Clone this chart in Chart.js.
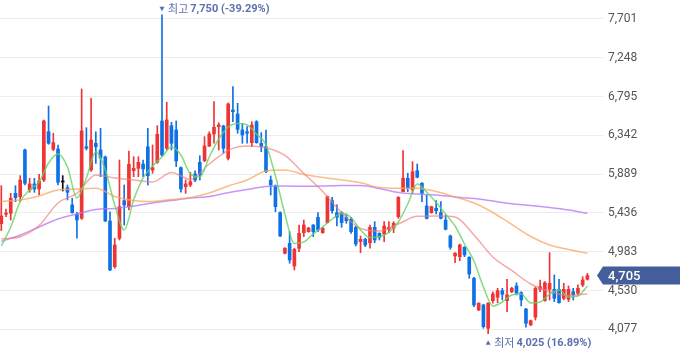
<!DOCTYPE html>
<html>
<head>
<meta charset="utf-8">
<script src="https://cdn.jsdelivr.net/npm/chart.js@4.4.1/dist/chart.umd.min.js"></script>
<style>
  html, body { margin: 0; padding: 0; background: #fff; }
  #wrap { width: 680px; height: 358px; }
</style>
</head>
<body>
<div id="wrap"><canvas id="chart" width="680" height="358"></canvas></div>
<script>
// daily candles, oldest first
const opens = [
  5310, 5420, 5432, 5665, 5626, 6171, 5704, 5774, 5715, 5820,
  6384, 6179, 6182, 5797, 5731, 5529, 5420, 5373, 6209, 5937,
  6249, 6171, 6089, 5342, 4808, 5140, 5579, 5509, 5929, 5957,
  6007, 6209, 5937, 6027, 6509, 6191, 6454, 6404, 5964, 5742,
  5762, 5891, 6027, 6046, 6217, 6358, 6443, 6451, 6074, 6638,
  6591, 6404, 6384, 6256, 6501, 6249, 6209, 5820, 5750, 5439,
  4965, 5081, 4816, 5023, 5205, 5217, 5295, 5385, 5205, 5322,
  5579, 5439, 5439, 5385, 5362, 5268, 5100, 5128, 5088, 5268,
  5198, 5190, 5245, 5256, 5392, 5684, 5840, 5704, 5929, 5782,
  5517, 5439, 5490, 5439, 5353, 5167, 4933, 4925, 5035, 4918,
  4673, 4303, 4361, 4089, 4411, 4451, 4528, 4411, 4516, 4583,
  4505, 4314, 4128, 4218, 4544, 4411, 4544, 4544, 4544, 4439,
  4428, 4516, 4498, 4595, 4661
];
const highs = [
  5754, 5482, 5665, 5754, 5871, 6180, 5840, 5840, 5887, 6521,
  6684, 6366, 6229, 5871, 5762, 5607, 5443, 6883, 6431, 6774,
  6384, 6424, 6100, 5450, 5140, 6054, 5762, 6159, 6092, 6092,
  6054, 6424, 6229, 6454, 7750, 6728, 6494, 6509, 5975, 5820,
  5910, 5926, 6104, 6326, 6384, 6735, 6490, 6460, 6720, 6910,
  6716, 6482, 6443, 6501, 6513, 6373, 6404, 5867, 5762, 5450,
  5030, 5217, 5023, 5295, 5353, 5268, 5300, 5439, 5268, 5634,
  5618, 5529, 5450, 5423, 5385, 5283, 5167, 5140, 5295, 5334,
  5205, 5334, 5334, 5334, 5626, 6163, 5899, 6034, 6007, 5789,
  5645, 5515, 5579, 5567, 5412, 5178, 4972, 5073, 5042, 4925,
  4685, 4388, 4370, 4390, 4516, 4556, 4556, 4661, 4568, 4621,
  4516, 4323, 4186, 4568, 4653, 4633, 4972, 4711, 4661, 4614,
  4583, 4556, 4595, 4691, 4731
];
const lows = [
  5229, 5392, 5353, 5567, 5567, 5762, 5677, 5677, 5645, 5800,
  6237, 6163, 5762, 5692, 5587, 5432, 5140, 5360, 6171, 5920,
  6015, 5859, 5334, 4762, 4790, 5120, 5295, 5470, 5859, 5859,
  5859, 5762, 5899, 6015, 6100, 6171, 6171, 5976, 5677, 5665,
  5742, 5801, 5820, 6034, 6209, 6249, 6171, 6132, 6054, 6501,
  6366, 6249, 6249, 6209, 6249, 6151, 5906, 5645, 5450, 5159,
  4956, 4848, 4770, 4983, 5159, 5210, 5159, 5217, 5198, 5315,
  5432, 5283, 5268, 5315, 5198, 5050, 4972, 5042, 5023, 5088,
  5120, 5100, 5205, 5205, 5373, 5684, 5684, 5665, 5845, 5567,
  5365, 5432, 5423, 5365, 5237, 5011, 4855, 4878, 4925, 4673,
  4341, 4295, 4089, 4025, 4381, 4388, 4420, 4283, 4505, 4478,
  4349, 4101, 4120, 4186, 4516, 4405, 4420, 4400, 4381, 4420,
  4400, 4420, 4478, 4575, 4653
];
const closes = [
  5400, 5435, 5607, 5614, 5820, 5782, 5774, 5715, 5809, 6509,
  6249, 6256, 5794, 5797, 5677, 5439, 5353, 6393, 6191, 6287,
  6209, 6077, 5342, 4770, 5062, 5509, 5529, 6004, 5957, 6027,
  5949, 5871, 5964, 6354, 6112, 6521, 6249, 6042, 5715, 5774,
  5801, 5820, 5880, 6217, 6358, 6436, 6463, 6191, 6708, 6618,
  6412, 6346, 6366, 6463, 6256, 6209, 5917, 5762, 5509, 5167,
  5023, 4886, 5011, 5198, 5295, 5260, 5217, 5237, 5256, 5626,
  5462, 5385, 5322, 5345, 5217, 5073, 5128, 5062, 5268, 5120,
  5151, 5283, 5268, 5315, 5618, 5840, 5724, 5917, 5852, 5665,
  5373, 5509, 5462, 5373, 5245, 5035, 4965, 5062, 4945, 4723,
  4361, 4381, 4108, 4381, 4490, 4528, 4486, 4478, 4556, 4498,
  4420, 4147, 4178, 4556, 4575, 4621, 4614, 4439, 4388, 4544,
  4544, 4478, 4556, 4653, 4705
];

// moving averages, one value every 2 / 4 candles
const ma5Step = 2;
const ma5 = [
  5050, 5272, 5570, 5704, 5797, 6019, 6124, 5972, 5610, 5844,
  6147, 5937, 5529, 5237, 5587, 5844, 5984, 6089, 6206, 6112,
  5890, 5855, 6089, 6299, 6439, 6480, 6463, 6358, 6229, 5867,
  5423, 5079, 5097, 5190, 5272, 5365, 5429, 5383, 5237, 5149,
  5157, 5208, 5330, 5540, 5774, 5680, 5558, 5423, 5283, 5073,
  4875, 4571, 4349, 4396, 4478, 4489, 4384, 4396, 4489, 4536,
  4454, 4466, 4583
];
const maStep = 4;
const ma20 = [
  5132, 5158, 5289, 5552, 5665, 5879, 5844, 5820, 5797, 5908,
  5826, 6007, 6167, 6217, 6196, 6107, 5896, 5686, 5439, 5254,
  5225, 5307, 5397, 5400, 5388, 5178, 4921, 4764, 4606, 4519,
  4472, 4489
];
const ma60 = [
  5570, 5587, 5634, 5704, 5715, 5724, 5628, 5581, 5570, 5593,
  5616, 5669, 5750, 5820, 5926, 5937, 5885, 5850, 5820, 5789,
  5733, 5724, 5724, 5686, 5622, 5552, 5441, 5301, 5161, 5062,
  5009, 4965
];
const ma120 = [
  5102, 5178, 5272, 5365, 5423, 5476, 5488, 5517, 5552, 5581,
  5610, 5628, 5672, 5710, 5745, 5750, 5747, 5750, 5756, 5756,
  5721, 5675, 5657, 5645, 5622, 5604, 5575, 5543, 5523, 5499,
  5470, 5432
];

const yTicks = [4077, 4530, 4983, 5436, 5889, 6342, 6795, 7248, 7701];

const UP = "#ee3434";
const DOWN = "#0f71e6";
const FLAT = "#111111";

const fmt = v => v.toLocaleString("en-US");
const candleColor = closes.map((c, i) => (c > opens[i] ? UP : c < opens[i] ? DOWN : FLAT));
const toLine = (vals, step) => vals.map((v, k) => ({ x: k * step, y: v }));

const wicks = lows.map((l, i) => ({ x: i, y: [l, highs[i]] }));
const bodies = opens.map((o, i) => ({ x: i, y: [Math.min(o, closes[i]), Math.max(o, closes[i])] }));

function maLine(label, vals, step, color) {
  return {
    type: "line",
    label: label,
    data: toLine(vals, step),
    borderColor: color,
    borderWidth: 1.5,
    pointRadius: 0,
    fill: false,
    cubicInterpolationMode: "monotone",
    order: 0,
  };
}

// max / min markers and the last price tag
const markers = {
  id: "markers",
  afterDraw(chart) {
    const { ctx, chartArea } = chart;
    const xs = chart.scales.x;
    const ys = chart.scales.y;
    const last = closes[closes.length - 1];
    const hi = Math.max(...highs);
    const lo = Math.min(...lows);
    const hiIdx = highs.indexOf(hi);
    const loIdx = lows.indexOf(lo);
    const pct = ref => {
      const p = ((last / ref - 1) * 100).toFixed(2);
      return "(" + p + "%)";
    };

    ctx.save();
    const noteColor = "#5d70ad";
    const drawNote = (px, py, down, word, val) => {
      ctx.fillStyle = noteColor;
      ctx.beginPath();
      if (down) {
        ctx.moveTo(px - 2.5, py - 2);
        ctx.lineTo(px + 2.5, py - 2);
        ctx.lineTo(px, py + 2.5);
      } else {
        ctx.moveTo(px - 2.5, py + 2);
        ctx.lineTo(px + 2.5, py + 2);
        ctx.lineTo(px, py - 2.5);
      }
      ctx.closePath();
      ctx.fill();
      ctx.textBaseline = "middle";
      ctx.textAlign = "left";
      ctx.font = '11px "Noto Sans CJK KR"';
      ctx.fillText(word, px + 6, py);
      const w = ctx.measureText(word).width;
      ctx.font = "bold 11px Roboto";
      ctx.fillText(val, px + 8 + w, py + 0.5);
    };
    drawNote(xs.getPixelForValue(hiIdx), ys.getPixelForValue(hi) - 6, true, "최고", fmt(hi) + " " + pct(hi));
    drawNote(xs.getPixelForValue(loIdx), ys.getPixelForValue(lo) + 9, false, "최저", fmt(lo) + " " + pct(lo));

    // current price tag on the axis
    const ty = ys.getPixelForValue(last);
    const left = chartArea.right - 6;
    ctx.fillStyle = "#445d9b";
    ctx.beginPath();
    ctx.moveTo(left, ty);
    ctx.lineTo(chartArea.right, ty - 9);
    ctx.lineTo(chart.width, ty - 9);
    ctx.lineTo(chart.width, ty + 9);
    ctx.lineTo(chartArea.right, ty + 9);
    ctx.closePath();
    ctx.fill();
    ctx.fillStyle = "#ffffff";
    ctx.font = "500 13px Roboto";
    ctx.textBaseline = "middle";
    ctx.fillText(fmt(last), chartArea.right + 5, ty + 1);
    ctx.restore();
  },
};

new Chart(document.getElementById("chart"), {
  type: "bar",
  data: {
    datasets: [
      maLine("MA5", ma5, ma5Step, "rgba(100, 210, 100, 0.8)"),
      maLine("MA20", ma20, maStep, "rgba(245, 120, 120, 0.65)"),
      maLine("MA60", ma60, maStep, "rgba(250, 165, 95, 0.75)"),
      maLine("MA120", ma120, maStep, "rgba(180, 115, 245, 0.75)"),
      {
        label: "body",
        data: bodies,
        backgroundColor: candleColor,
        barThickness: 3,
        minBarLength: 1,
        grouped: false,
        borderWidth: 0,
        order: 1,
      },
      {
        label: "wick",
        data: wicks,
        backgroundColor: candleColor,
        barThickness: 1,
        grouped: false,
        borderWidth: 0,
        order: 2,
      },
    ],
  },
  options: {
    responsive: false,
    animation: false,
    devicePixelRatio: 1,
    layout: { padding: 0 },
    plugins: { legend: { display: false }, tooltip: { enabled: false } },
    scales: {
      x: {
        type: "linear",
        display: false,
        offset: false,
        min: -0.275,
        max: 127.3,
        grid: { display: false },
      },
      y: {
        position: "right",
        min: 3742,
        max: 7922,
        border: { display: false },
        grid: { color: "#ececec", drawTicks: false },
        afterBuildTicks: scale => {
          scale.ticks = yTicks.map(v => ({ value: v }));
        },
        afterFit: scale => {
          // full-height plot area, fixed axis width
          scale.width = 77;
          scale.paddingTop = 0;
          scale.paddingBottom = 0;
        },
        ticks: {
          padding: 5,
          color: "#555555",
          font: { family: "Roboto", size: 12 },
          callback: v => fmt(v),
        },
      },
    },
  },
  plugins: [markers],
});
</script>
</body>
</html>
